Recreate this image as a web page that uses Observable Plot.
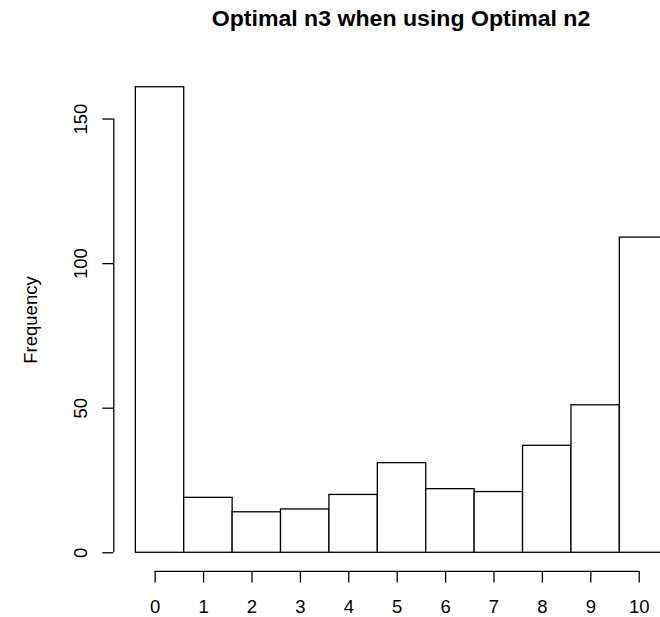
<!DOCTYPE html>
<html>
<head>
<meta charset="utf-8">
<script src="https://cdn.jsdelivr.net/npm/d3@7"></script>
<script src="https://cdn.jsdelivr.net/npm/@observablehq/plot@0.6"></script>
<style>
  html, body { margin: 0; padding: 0; background: #fff; overflow: hidden; }
  #chart { position: relative; width: 660px; height: 617px; font-family: "Liberation Sans", Arial, sans-serif; }
  #title { position: relative; height: 40px; box-sizing: border-box; padding-top: 8px; }
  #title span { position: absolute; left: 401px; top: 8px; transform: translateX(-50%) scaleX(1.05); white-space: nowrap;
    font-size: 22px; line-height: 22px; font-weight: bold; color: #000; }
  svg { display: block; }
</style>
</head>
<body>
<div id="chart">
  <div id="title"><span>Optimal n3 when using Optimal n2</span></div>
</div>
<script>
// Histogram data (values of n3)
const breaks = [-0.4, 0.6, 1.6, 2.6, 3.6, 4.6, 5.6, 6.6, 7.6, 8.6, 9.6, 10.6];
const counts = [161, 19, 14, 15, 20, 31, 22, 21, 37, 51, 109];
const xTicks = [0, 1, 2, 3, 4, 5, 6, 7, 8, 9, 10];
const yTicks = [0, 50, 100, 150];
const yLabel = "Frequency";

// scale extents (R-style plot region, cropped on the right)
const xDomain = [-0.855, 10.44];
const yDomain = [-6.44, 167.44];

const bins = counts.map((c, i) => ({x1: breaks[i], x2: breaks[i + 1], count: c}));

const FS = 18.5;

const plot = Plot.plot({
  width: 660,
  height: 577,
  marginLeft: 113.3,
  marginRight: 0,
  marginTop: 28.1,
  marginBottom: 46.1,
  style: {fontSize: FS + "px", fontFamily: "'Liberation Sans', Arial, sans-serif", color: "#000", background: "#fff"},
  x: {domain: xDomain, label: null},
  y: {domain: yDomain, label: null},
  marks: [
    Plot.rect(bins, {x1: "x1", x2: "x2", y1: 0, y2: "count", fill: "#fff", stroke: "#000", strokeWidth: 1.3, clip: true}),
    Plot.ruleY([yDomain[0]], {x1: xTicks[0], x2: xTicks[xTicks.length - 1], stroke: "#000", strokeWidth: 1.3}),
    Plot.ruleX([xDomain[0]], {y1: yTicks[0], y2: yTicks[yTicks.length - 1], stroke: "#000", strokeWidth: 1.3}),
    Plot.axisX({ticks: xTicks, tickSize: 11.7, tickPadding: 17, tickFormat: d => String(d), label: null, strokeWidth: 1.3, fontSize: FS}),
    Plot.axisY({ticks: yTicks, tickSize: 11, tickPadding: 16.3, tickRotate: -90, tickFormat: d => String(d), label: null, strokeWidth: 1.3, fontSize: FS}),
    Plot.text([yLabel], {text: d => d, frameAnchor: "left", rotate: -90, dx: -76.6, textAnchor: "middle", lineAnchor: "bottom", fontSize: FS})
  ]
});
document.getElementById("chart").appendChild(plot);
</script>
</body>
</html>
